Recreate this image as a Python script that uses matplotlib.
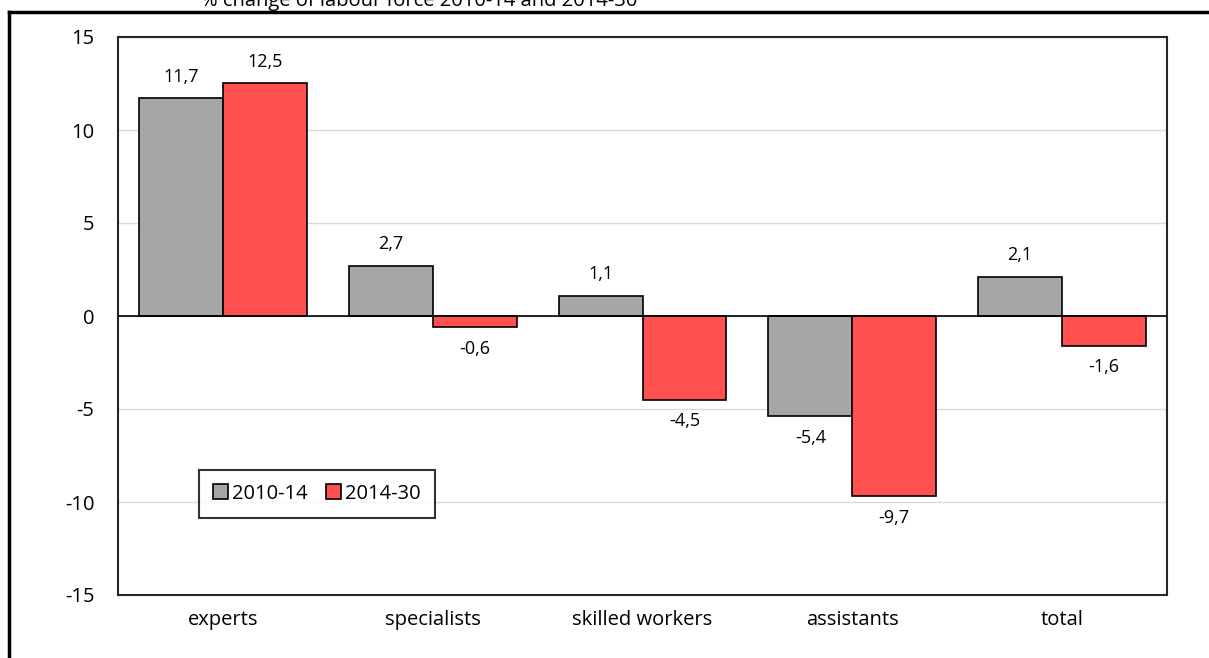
import numpy as np
import matplotlib.pyplot as plt
from matplotlib.lines import Line2D

plt.rcParams['font.family'] = ['Open Sans', 'DejaVu Sans']

groups = ['experts', 'specialists', 'skilled workers', 'assistants', 'total']
change_2010_14 = [11.7, 2.7, 1.1, -5.4, 2.1]
change_2014_30 = [12.5, -0.6, -4.5, -9.7, -1.6]
series_names = ['2010-14', '2014-30']
yticks = [-15, -10, -5, 0, 5, 10, 15]

fig = plt.figure(figsize=(12.09, 6.58), dpi=100)
ax = fig.add_axes([118 / 1209, 1 - 595 / 658, (1167 - 118) / 1209, (595 - 37) / 658])

x = np.arange(len(groups))
w = 0.4
b1 = ax.bar(x - w / 2, change_2010_14, w, color='#a6a6a6', edgecolor='black', linewidth=1.2,
            label=series_names[0], zorder=3)
b2 = ax.bar(x + w / 2, change_2014_30, w, color='#ff4f4f', edgecolor='black', linewidth=1.2,
            label=series_names[1], zorder=3)

for bars, vals in [(b1, change_2010_14), (b2, change_2014_30)]:
    for bar, v in zip(bars, vals):
        cx = bar.get_x() + bar.get_width() / 2
        txt = f'{v:.1f}'.replace('.', ',')
        if v >= 0:
            ax.annotate(txt, (cx, v), xytext=(0, 9), textcoords='offset points',
                        ha='center', va='bottom', fontsize=13)
        else:
            ax.annotate(txt, (cx, v), xytext=(0, -9), textcoords='offset points',
                        ha='center', va='top', fontsize=13)

ax.set_xlim(-0.5, len(groups) - 0.5)
ax.set_ylim(-15, 15)
ax.set_yticks(yticks)
ax.set_yticklabels([str(t) for t in yticks], fontsize=14.5)
ax.set_xticks(x)
ax.set_xticklabels(groups, fontsize=14.5)
ax.tick_params(length=0)
ax.tick_params(axis='x', pad=11)
ax.tick_params(axis='y', pad=17)
ax.grid(axis='y', color='#d9d9d9', linewidth=1, zorder=0)
ax.axhline(0, color='black', linewidth=1.2, zorder=4)
for s in ax.spines.values():
    s.set_linewidth(1.5)
    s.set_color('#262626')

leg = ax.legend(loc='lower left', bbox_to_anchor=(0.077, 0.138), borderaxespad=0, ncol=2,
                fontsize=14.5, frameon=True, fancybox=False, handlelength=0.75,
                handleheight=0.75, handletextpad=0.2, columnspacing=0.9, borderpad=0.7)
leg.get_frame().set_edgecolor('black')
leg.get_frame().set_linewidth(1.5)

fig.text(201 / 1209, 1 - 1 / 658, '% change of labour force 2010-14 and 2014-30',
         fontsize=14.5, ha='left', va='center')

# outer frame
fig.add_artist(Line2D([9 / 1209, 9 / 1209], [0, 1 - 12 / 658], color='black', linewidth=2.5,
                      transform=fig.transFigure))
fig.add_artist(Line2D([9 / 1209, 1], [1 - 12 / 658, 1 - 12 / 658], color='black', linewidth=2.5,
                      transform=fig.transFigure))

fig.savefig('out.png', dpi=100)
